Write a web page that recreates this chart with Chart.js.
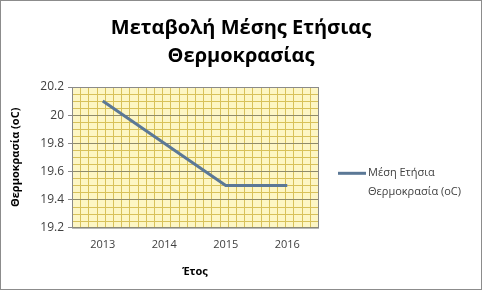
<!DOCTYPE html>
<html>
<head>
<meta charset="utf-8">
<script src="https://cdn.jsdelivr.net/npm/chart.js@4"></script>
<style>
  html, body { margin: 0; padding: 0; background: #fff; }
  #wrap { position: relative; width: 480px; height: 288px; border: 1px solid #8c8c8c; }
</style>
</head>
<body>
<div id="wrap"><canvas id="chart" width="480" height="288"></canvas></div>
<script>
const years = ["2013", "2014", "2015", "2016"];
const temps = [20.1, 19.8, 19.5, 19.5];
const seriesName = "Μέση Ετήσια Θερμοκρασία (oC)";
const titleLines = ["Μεταβολή Μέσης Ετήσιας", "Θερμοκρασίας"];
const yMin = 19.2, yMax = 20.2, yStep = 0.2;

const FONT = "'Open Sans', 'Noto Sans', sans-serif";
const lineColor = "#5b7896";

// yellow graph-paper background
const paper = {
  id: "paper",
  beforeDraw(chart) {
    const { ctx, chartArea: a, scales } = chart;
    ctx.save();
    ctx.fillStyle = "#fdf6c4";
    ctx.fillRect(a.left, a.top, a.right - a.left, a.bottom - a.top);
    ctx.strokeStyle = "#d8c15a";
    ctx.lineWidth = 1;
    const cols = 30;
    const w = (a.right - a.left) / cols;
    for (let i = 1; i < cols; i++) {
      const x = Math.round(a.left + i * w) + 0.5;
      ctx.beginPath(); ctx.moveTo(x, a.top); ctx.lineTo(x, a.bottom); ctx.stroke();
    }
    for (let v = yMin + 0.05; v < yMax - 0.001; v += 0.05) {
      const y = Math.round(scales.y.getPixelForValue(v)) + 0.5;
      ctx.beginPath(); ctx.moveTo(a.left, y); ctx.lineTo(a.right, y); ctx.stroke();
    }
    ctx.restore();
  },
  afterDatasetsDraw(chart) {
    const { ctx, chartArea: a } = chart;
    ctx.save();
    ctx.strokeStyle = "#8a8a8a";
    ctx.lineWidth = 1;
    ctx.strokeRect(a.left + 0.5, a.top + 0.5, a.right - a.left, a.bottom - a.top);
    ctx.restore();
  }
};

// title centred on the whole picture, legend in two lines on the right
const extras = {
  id: "extras",
  afterDraw(chart) {
    const { ctx, chartArea: a } = chart;
    const ds = chart.data.datasets[0];
    ctx.save();
    ctx.fillStyle = "#000";
    ctx.font = "bold 20px " + FONT;
    ctx.textAlign = "center";
    ctx.textBaseline = "middle";
    titleLines.forEach((t, i) => ctx.fillText(t, chart.width / 2, 27 + i * 28));

    const x0 = a.right + 20, y0 = (a.top + a.bottom) / 2 + 16;
    ctx.strokeStyle = ds.borderColor;
    ctx.lineWidth = 3;
    ctx.beginPath(); ctx.moveTo(x0, y0); ctx.lineTo(x0 + 28, y0); ctx.stroke();
    ctx.fillStyle = "#404040";
    ctx.font = "11px " + FONT;
    ctx.textAlign = "left";
    const words = ds.label.split(" ");
    ctx.fillText(words.slice(0, 2).join(" "), x0 + 30, y0);
    ctx.fillText(words.slice(2).join(" "), x0 + 30, y0 + 19);
    ctx.restore();
  }
};

new Chart(document.getElementById("chart"), {
  type: "line",
  data: {
    labels: years,
    datasets: [{
      label: seriesName,
      data: temps,
      borderColor: lineColor,
      borderWidth: 3,
      pointRadius: 0,
      tension: 0
    }]
  },
  plugins: [paper, extras],
  options: {
    responsive: false,
    animation: false,
    layout: { padding: { left: 4, right: 163, top: 86, bottom: 7 } },
    plugins: {
      legend: { display: false },
      tooltip: { enabled: false },
      title: { display: false }
    },
    scales: {
      x: {
        offset: true,
        grid: { display: false, drawTicks: false },
        border: { display: false },
        ticks: { color: "#404040", font: { family: FONT, size: 11 }, padding: 11 },
        title: { display: true, text: "Έτος", color: "#000", font: { family: FONT, size: 11, weight: "bold" }, padding: { top: 2 } }
      },
      y: {
        min: yMin,
        max: yMax,
        ticks: {
          stepSize: yStep,
          color: "#404040",
          font: { family: FONT, size: 12 },
          padding: 4,
          callback: v => String(Math.round(v * 10) / 10)
        },
        grid: { color: "#8f8b6a", tickLength: 4, tickColor: "#8a8a8a", drawOnChartArea: true },
        border: { display: false },
        title: { display: true, text: "Θερμοκρασία (oC)", color: "#000", font: { family: FONT, size: 11, weight: "bold" }, padding: { bottom: 2 } },
        afterFit(s) { s.width = 67; }
      }
    }
  }
});
</script>
</body>
</html>
